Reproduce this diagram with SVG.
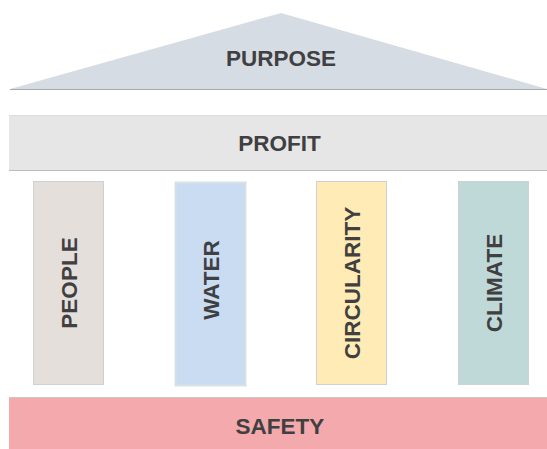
<svg xmlns="http://www.w3.org/2000/svg" width="547" height="449" viewBox="0 0 547 449">
  <style>
    .lbl { font-family: "Liberation Sans", Arial, sans-serif; font-weight: bold; font-size: 22.5px; fill: #404040; text-anchor: middle; dominant-baseline: central; }
    .pillar { stroke: #D0D0D0; stroke-width: 1; }
  </style>
  <rect width="547" height="449" fill="#FFFFFF"/>

  <!-- roof -->
  <g id="purpose">
    <polygon points="10,89 281,13 547,89" fill="#D6DCE4"/>
    <line x1="10" y1="89.5" x2="547" y2="89.5" stroke="#A9A9A9" stroke-width="1"/>
    <text class="lbl" x="281" y="58">PURPOSE</text>
  </g>

  <!-- entablature -->
  <g id="profit">
    <rect x="9" y="115" width="538" height="55" fill="#E7E6E6"/>
    <line x1="9" y1="115.5" x2="547" y2="115.5" stroke="#DCDCDC" stroke-width="1"/>
    <line x1="9" y1="170.5" x2="547" y2="170.5" stroke="#BDBDBD" stroke-width="1"/>
    <text class="lbl" x="279.5" y="143">PROFIT</text>
  </g>

  <!-- pillars -->
  <g id="people">
    <rect class="pillar" x="33.5" y="181.5" width="70" height="203" fill="#E4DFDB"/>
    <text class="lbl" transform="translate(69,283) rotate(-90)">PEOPLE</text>
  </g>
  <g id="water">
    <rect x="175.5" y="182.5" width="70" height="203" fill="#C9DCF2" stroke="#D8E2E6" stroke-width="2"/>
    <text class="lbl" transform="translate(211,280) rotate(-90)">WATER</text>
  </g>
  <g id="circularity">
    <rect class="pillar" x="316.5" y="181.5" width="70" height="203" fill="#FFEBB5"/>
    <text class="lbl" transform="translate(352,283) rotate(-90)">CIRCULARITY</text>
  </g>
  <g id="climate">
    <rect class="pillar" x="458.5" y="181.5" width="70" height="203" fill="#BFD9D9"/>
    <text class="lbl" transform="translate(494,283) rotate(-90)">CLIMATE</text>
  </g>

  <!-- base -->
  <g id="safety">
    <rect x="9" y="397" width="538" height="52" fill="#F4A9AD"/>
    <line x1="9" y1="397.5" x2="547" y2="397.5" stroke="#C8C8C8" stroke-width="1"/>
    <text class="lbl" x="280" y="426">SAFETY</text>
  </g>

  <g id="connectors"/>
</svg>
